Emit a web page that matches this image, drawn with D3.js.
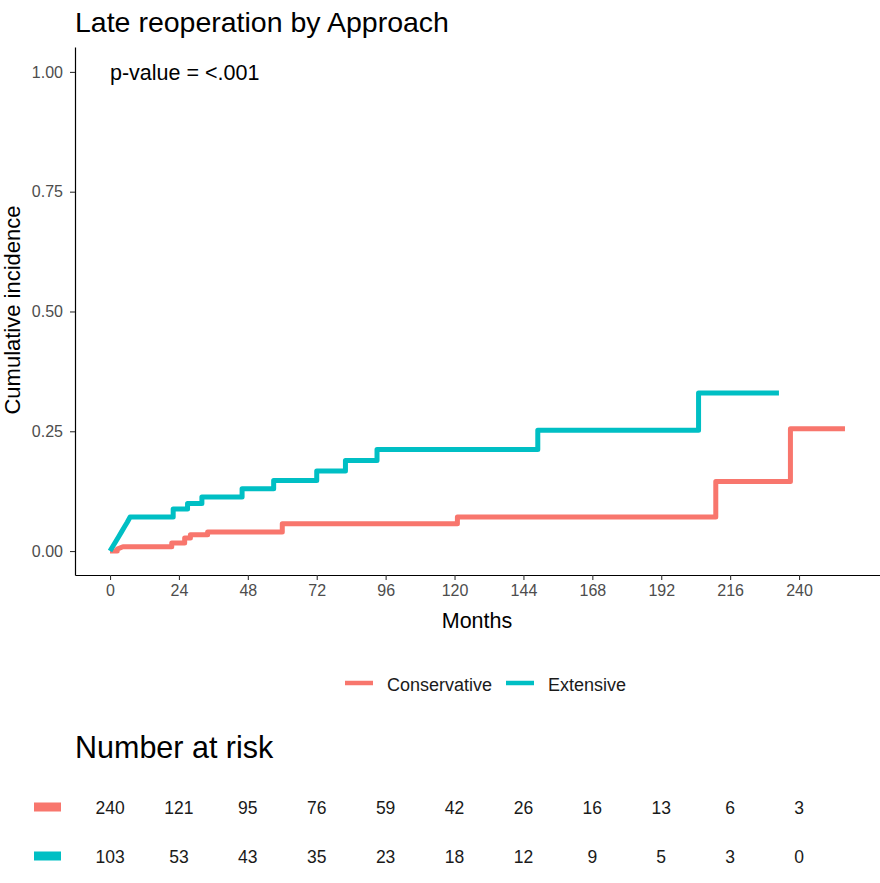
<!DOCTYPE html>
<html>
<head>
<meta charset="utf-8">
<script src="https://cdn.jsdelivr.net/npm/d3@7"></script>
<style>
  body { margin: 0; background: #fff; }
  svg { display: block; }
</style>
</head>
<body>
<svg id="chart" width="880" height="883"></svg>
<script>
// ---- data ----
const groups = ["Conservative", "Extensive"];
const colors = ["#F8766D", "#00BFC4"];
const xTicks = [0, 24, 48, 72, 96, 120, 144, 168, 192, 216, 240];
const yTicks = [0, 0.25, 0.5, 0.75, 1.0];
// step curves: [time (months), cumulative incidence]
const conservativeCurve = [
  [0, 0], [2.5, 0], [2.5, 0.004], [4.5, 0.009], [21.5, 0.009], [21.5, 0.017],
  [26, 0.017], [26, 0.027], [28, 0.027], [28, 0.034], [34, 0.034], [34, 0.04],
  [60, 0.04], [60, 0.057], [121, 0.057], [121, 0.071], [211, 0.071], [211, 0.145],
  [237, 0.145], [237, 0.255], [256, 0.255]
];
const extensiveCurve = [
  [0, 0], [1, 0.01], [2, 0.02], [3, 0.03], [4, 0.04], [5, 0.05], [6, 0.06], [7, 0.071],
  [22, 0.071], [22, 0.088], [27, 0.088], [27, 0.099], [32, 0.099], [32, 0.113],
  [46, 0.113], [46, 0.13], [57, 0.13], [57, 0.147], [72, 0.147], [72, 0.167],
  [82, 0.167], [82, 0.189], [93, 0.189], [93, 0.212], [149, 0.212], [149, 0.252],
  [205, 0.252], [205, 0.33], [233, 0.33]
];
const riskConservative = [240, 121, 95, 76, 59, 42, 26, 16, 13, 6, 3];
const riskExtensive = [103, 53, 43, 35, 23, 18, 12, 9, 5, 3, 0];
const pText = "p-value = <.001";

// ---- drawing ----
const svg = d3.select("#chart");
const sans = "'Liberation Sans', Arial, sans-serif";

const x = d3.scaleLinear().domain([-12.2, 268.2]).range([75, 880]);
const y = d3.scaleLinear().domain([-0.05, 1.052]).range([575, 47]);

// title
svg.append("text").attr("x", 75).attr("y", 32)
  .attr("font-family", sans).attr("font-size", 28.5).attr("fill", "#000")
  .text("Late reoperation by Approach");

// curves
const line = d3.line().x(d => x(d[0])).y(d => y(d[1])).curve(d3.curveLinear);
[conservativeCurve, extensiveCurve].forEach((c, i) => {
  svg.append("path").datum(c).attr("d", line)
    .attr("fill", "none").attr("stroke", colors[i]).attr("stroke-width", 5)
    .attr("stroke-linejoin", "round");
});

// axes
const xAxis = svg.append("g").attr("transform", "translate(0,575)")
  .call(d3.axisBottom(x).tickValues(xTicks).tickSize(5).tickPadding(5).tickSizeOuter(0));
const yAxis = svg.append("g").attr("transform", "translate(75,0)")
  .call(d3.axisLeft(y).tickValues(yTicks).tickFormat(d3.format(".2f")).tickSize(5).tickPadding(7).tickSizeOuter(0));
[xAxis, yAxis].forEach(g => {
  g.select(".domain").attr("stroke", "#000").attr("stroke-width", 1.2);
  g.selectAll(".tick line").attr("stroke", "#333").attr("stroke-width", 1.1);
  g.selectAll(".tick text").attr("fill", "#4d4d4d").attr("font-family", sans).attr("font-size", 16);
});

// p-value
svg.append("text").attr("x", 110).attr("y", 80)
  .attr("font-family", sans).attr("font-size", 21.5).attr("fill", "#000").text(pText);

// axis titles
svg.append("text").attr("x", 477).attr("y", 628).attr("text-anchor", "middle")
  .attr("font-family", sans).attr("font-size", 21.5).attr("fill", "#000").text("Months");
svg.append("text").attr("transform", "translate(20,310) rotate(-90)").attr("text-anchor", "middle")
  .attr("font-family", sans).attr("font-size", 22).attr("fill", "#000").text("Cumulative incidence");

// legend
const legendItems = [
  { x: 345, tx: 387, label: groups[0], c: colors[0] },
  { x: 506, tx: 548, label: groups[1], c: colors[1] }
];
legendItems.forEach(it => {
  svg.append("line").attr("x1", it.x).attr("x2", it.x + 28).attr("y1", 683).attr("y2", 683)
    .attr("stroke", it.c).attr("stroke-width", 4.5);
  svg.append("text").attr("x", it.tx).attr("y", 691)
    .attr("font-family", sans).attr("font-size", 18).attr("fill", "#1a1a1a").text(it.label);
});

// risk table
svg.append("text").attr("x", 75).attr("y", 758)
  .attr("font-family", sans).attr("font-size", 30.5).attr("fill", "#000").text("Number at risk");
const rows = [{ y: 807, vals: riskConservative, c: colors[0] }, { y: 856, vals: riskExtensive, c: colors[1] }];
rows.forEach(r => {
  svg.append("rect").attr("x", 34).attr("y", r.y - 4.5).attr("width", 27).attr("height", 9).attr("fill", r.c);
  svg.selectAll(null).data(r.vals).enter().append("text")
    .attr("x", (d, i) => x(xTicks[i])).attr("y", r.y + 7).attr("text-anchor", "middle")
    .attr("font-family", sans).attr("font-size", 17.5).attr("fill", "#1a1a1a").text(d => d);
});
</script>
</body>
</html>
